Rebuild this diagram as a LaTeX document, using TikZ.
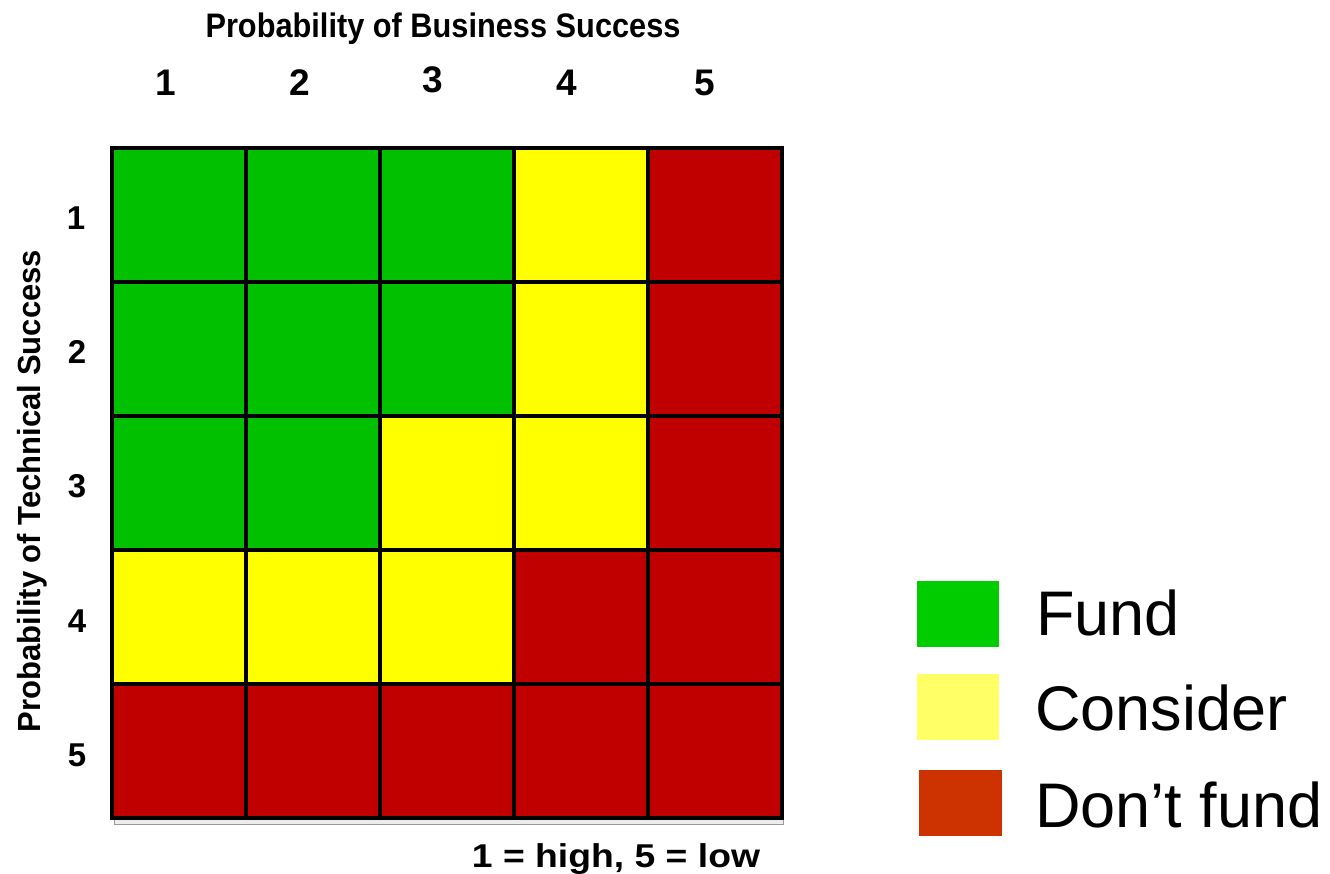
\documentclass[tikz,border=0pt]{standalone}
\usepackage{fontspec}
\setmainfont{Liberation Sans}
\usepackage{graphicx}
\definecolor{gG}{RGB}{0,192,0}
\definecolor{gY}{RGB}{255,255,0}
\definecolor{gR}{RGB}{192,0,0}
\definecolor{lG}{RGB}{0,204,0}
\definecolor{lY}{RGB}{255,255,102}
\definecolor{lR}{RGB}{204,51,0}
\newcommand{\fitw}[2]{\resizebox{#1}{\height}{#2}}
\begin{document}
\begin{tikzpicture}[x=1pt,y=-1pt,
  cell/.style={draw=black,line width=3.5pt,minimum width=134pt,minimum height=134pt,inner sep=0pt,outer sep=0pt},
  lab/.style={font=\fontsize{33}{36}\selectfont\bfseries,inner sep=0pt,anchor=base},
  toplab/.style={font=\fontsize{37}{40}\selectfont\bfseries,inner sep=0pt,anchor=base},
  ltext/.style={font=\fontsize{63}{70}\selectfont,inner sep=0pt,anchor=base west}]
\useasboundingbox (0,0) rectangle (1330,873);
% shadow strip below grid
\node[draw=gray!80,fill=gray!15,line width=1.2pt,minimum width=669pt,minimum height=5pt,inner sep=0pt,anchor=north west] (shadow) at (114,818.5) {};
% grid cells
\foreach \r/\row in {1/{gG,gG,gG,gY,gR},2/{gG,gG,gG,gY,gR},3/{gG,gG,gY,gY,gR},4/{gY,gY,gY,gR,gR},5/{gR,gR,gR,gR,gR}}{
  \foreach \c [count=\k] in \row {
    \node[cell,fill=\c] (c-\r-\k) at ({112+134*(\k-0.5)},{148+134*(\r-0.5)}) {};
  }
}
% title and column labels
\node[font=\fontsize{34}{38}\selectfont\bfseries,inner sep=0pt,anchor=base] (title) at (443,37) {\fitw{475pt}{Probability of Business Success}};
\node[toplab] (col1) at (166,95) {1};
\node[toplab] (col2) at (300,95) {2};
\node[toplab] (col3) at (433,92) {3};
\node[toplab] (col4) at (567,95) {4};
\node[toplab] (col5) at (705,95) {5};
% row labels
\node[lab] (row1) at (76,229) {1};
\node[lab] (row2) at (77,363) {2};
\node[lab] (row3) at (77,497) {3};
\node[lab] (row4) at (77,632) {4};
\node[lab] (row5) at (77,766) {5};
% vertical axis title
\node[font=\fontsize{32}{36}\selectfont\bfseries,inner sep=0pt,anchor=base,rotate=90] (ytitle) at (40,491) {\fitw{482pt}{Probability of Technical Success}};
% note
\node[font=\fontsize{33}{36}\selectfont\bfseries,inner sep=0pt,anchor=base] (note) at (616,867) {\fitw{288pt}{1 = high, 5 = low}};
% legend
\fill[lG] (917,581) rectangle (999,647) coordinate (lgA);
\fill[lY] (917,674) rectangle (999,740) coordinate (lgB);
\fill[lR] (919,770) rectangle (1002,836) coordinate (lgC);
\node[ltext] (fund) at (1036,635) {Fund};
\node[ltext] (consider) at (1035,730) {Consider};
\node[ltext] (dont) at (1035,827) {Don’t fund};
\end{tikzpicture}
\end{document}
